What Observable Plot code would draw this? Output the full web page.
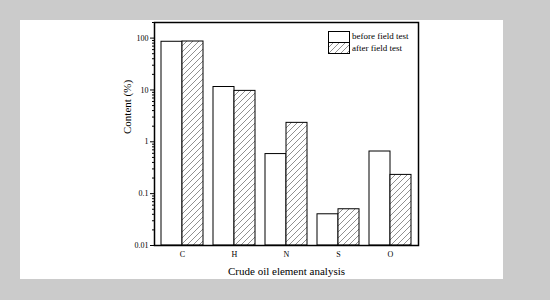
<!DOCTYPE html>
<html><head><meta charset="utf-8">
<script src="https://cdn.jsdelivr.net/npm/d3@7"></script>
<script src="https://cdn.jsdelivr.net/npm/@observablehq/plot@0.6"></script>
<style>
html,body{margin:0;padding:0}
body{width:550px;height:300px;background:#cbcbcb;position:relative;overflow:hidden;font-family:"Liberation Serif","Times New Roman",serif}
#panel{position:absolute;left:20px;top:20px;width:483px;height:259px;background:#fff}
#chart{position:absolute;left:0;top:0}
#legend{position:absolute;left:328px;top:31px;font-size:9px;line-height:11px;color:#000}
#legend .row{display:flex;align-items:center;height:11.5px}
#legend svg{margin-right:2px}
</style></head><body>
<svg width="0" height="0" style="position:absolute">
  <defs>
    <pattern id="hatch" patternUnits="userSpaceOnUse" width="6" height="6">
      <rect width="6" height="6" fill="#fff"/>
      <path d="M-1,1 L1,-1 M0,6 L6,0 M5,7 L7,5" stroke="#444" stroke-width="0.6"/>
    </pattern>
  </defs>
</svg>
<div id="panel"></div>
<div id="chart"></div>
<div id="legend">
  <div class="row"><svg width="22" height="12"><rect x="0.5" y="0.5" width="21" height="11" fill="#fff" stroke="#000"/></svg><span>before field test</span></div>
  <div class="row"><svg width="22" height="12"><rect x="0.5" y="0.5" width="21" height="11" fill="url(#hatch)" stroke="#000"/></svg><span>after field test</span></div>
</div>
<script>
const elements = ["C", "H", "N", "S", "O"];
const beforeTest = [85, 11.4, 0.58, 0.04, 0.65];
const afterTest = [86, 9.6, 2.32, 0.05, 0.23];
const yTicks = [0.01, 0.1, 1, 10, 100];
const yTickLabels = ["0.01", "0.1", "1", "10", "100"];
const baseline = 0.01;

const labelMap = new Map(yTicks.map((t, i) => [t, yTickLabels[i]]));
const minorTicks = [];
for (let e = -2; e <= 2; e++) for (let k = 2; k <= 9; k++) { const v = k * Math.pow(10, e); if (v <= 200) minorTicks.push(+v.toPrecision(3)); }

const chart = Plot.plot({
  width: 550, height: 300,
  marginLeft: 154, marginRight: 132, marginTop: 22, marginBottom: 55,
  style: {background: "transparent", fontFamily: "'Liberation Serif','Times New Roman',serif", fontSize: "8px", color: "#000"},
  x: {domain: elements, paddingInner: 0.2, paddingOuter: 0.1, label: null, axis: null},
  y: {type: "log", domain: [0.01, 200], label: null, axis: null},
  marks: [
    Plot.barY(elements, {x: d => d, y1: baseline, y2: (d, i) => beforeTest[i], fill: "#fff", stroke: "#000", strokeWidth: 1, insetRight: 21}),
    Plot.barY(elements, {x: d => d, y1: baseline, y2: (d, i) => afterTest[i], fill: "url(#hatch)", stroke: "#000", strokeWidth: 1, insetLeft: 21}),
    Plot.axisY(minorTicks, {tickSize: 2, text: null, label: null, strokeWidth: 1}),
    Plot.axisY(yTicks, {tickSize: 4, tickPadding: 2, tickFormat: d => labelMap.get(d), label: null, fontSize: 8}),
    Plot.axisX(elements, {tickSize: 0, tickPadding: 6, label: null, fontSize: 8}),
    Plot.frame({stroke: "#000", strokeWidth: 1.5}),
    Plot.text(["Content (%)"], {frameAnchor: "left", dx: -27, rotate: -90, fontSize: 11, lineAnchor: "middle"}),
    Plot.text(["Crude oil element analysis"], {frameAnchor: "bottom", dy: 26, fontSize: 11, lineAnchor: "middle"})
  ]
});
document.getElementById("chart").appendChild(chart);
</script>
</body></html>
